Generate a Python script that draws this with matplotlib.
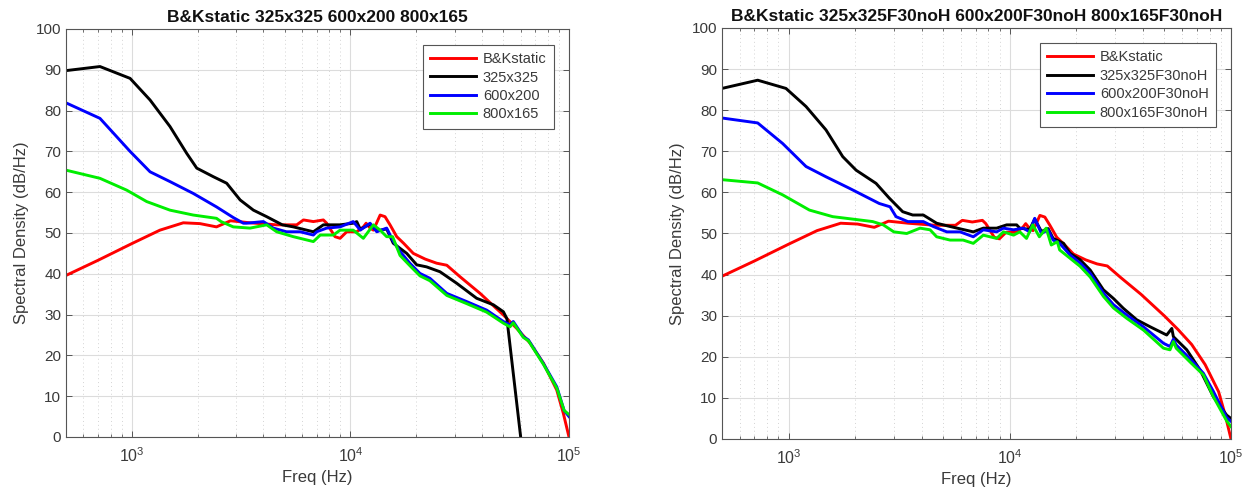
import matplotlib
matplotlib.use("Agg")
import matplotlib.pyplot as plt
from matplotlib.ticker import LogLocator, NullFormatter, MultipleLocator

plt.rcParams['font.family'] = ['Liberation Sans', 'DejaVu Sans']
plt.rcParams['mathtext.default'] = 'regular'

# ---------------- data ----------------
# B&Kstatic reference (same in both panels)
freq_bk = [500, 700, 1000, 1345, 1720, 2050, 2440, 2830, 3474, 4600, 5680, 6100, 6770, 7520, 7790,
           8500, 8970, 9620, 10690, 11460, 11800, 12300, 12740, 13680, 14400, 15180, 16290, 17500,
           19400, 22000, 24800, 27600, 31700, 39200, 50100, 57700, 66400, 76400, 87900, 94200, 100000]
db_bk = [39.6, 43.3, 47.4, 50.7, 52.5, 52.3, 51.5, 53.0, 52.5, 52.0, 52.0, 53.2, 52.8, 53.2, 52.4,
         49.1, 48.7, 50.3, 50.3, 51.5, 52.4, 51.2, 50.7, 54.4, 54.0, 52.0, 49.1, 47.5,
         45.0, 43.6, 42.6, 42.1, 39.3, 35.2, 29.9, 26.6, 23.0, 18.1, 11.5, 5.8, 0.0]

# left panel
freq_325 = [500, 715, 982, 1212, 1495, 1784, 1982, 2360, 2716, 3130, 3600, 4140, 4880, 5480, 6770,
            7520, 8970, 10300, 10690, 11100, 12300, 13200, 14650, 15700, 18100, 20100, 22300, 25700,
            30600, 37800, 45100, 50100, 52000, 60100, 61500]
db_325 = [89.8, 90.8, 87.9, 82.6, 76.1, 69.5, 65.9, 63.8, 62.2, 58.1, 55.6, 54.0, 52.0, 51.5, 50.3,
          52.0, 52.0, 52.4, 52.8, 50.9, 52.2, 50.5, 51.0, 47.5, 45.0, 42.2, 41.7, 40.5,
          37.7, 34.0, 32.4, 30.7, 29.0, 0.0, -4.0]

freq_600 = [500, 715, 982, 1212, 1495, 1910, 2440, 2910, 3240, 3350, 4000, 4440, 5100, 5890, 6770,
            7010, 7790, 8970, 10300, 11100, 12300, 13200, 14650, 15700, 16870, 18700, 20800, 23100,
            27600, 34000, 42000, 50100, 53700, 55600, 61800, 65200, 76400, 87900, 95000, 100000]
db_600 = [81.9, 78.1, 70.0, 65.0, 62.6, 59.7, 56.4, 53.8, 52.4, 52.4, 52.8, 51.2, 50.3, 50.3, 49.5,
          50.3, 51.2, 51.5, 52.8, 50.7, 52.4, 50.3, 51.2, 48.0, 45.5, 42.6, 40.1, 38.9,
          35.2, 33.2, 31.1, 28.3, 27.5, 28.3, 24.6, 23.8, 18.0, 12.3, 6.5, 5.0]

freq_800 = [500, 715, 948, 1170, 1495, 1910, 2440, 2560, 2911, 3474, 4140, 4600, 5480, 6770, 7280,
            8360, 8970, 10300, 11460, 12740, 13680, 14650, 15600, 16870, 18700, 20800, 23100, 27600,
            34000, 42000, 50100, 53700, 55600, 61800, 65200, 76400, 87900, 95000, 100000]
db_800 = [65.4, 63.4, 60.5, 57.7, 55.6, 54.4, 53.6, 52.8, 51.5, 51.2, 52.0, 50.3, 49.1, 47.9, 49.5,
          49.5, 50.7, 50.7, 48.7, 52.0, 50.7, 49.1, 49.1, 44.5, 42.0, 39.5, 38.3, 34.7,
          32.7, 30.6, 27.9, 27.0, 28.0, 24.4, 23.6, 17.8, 12.0, 6.5, 5.5]

# right panel
freq_325f = [500, 725, 973, 1199, 1476, 1757, 2020, 2485, 2853, 3280, 3640, 4065, 4670, 5370, 6840,
             7590, 8720, 9680, 10740, 11100, 12300, 12960, 13900, 14900, 15700, 17500, 18700, 20800,
             23100, 26500, 29400, 32600, 37500, 43100, 51200, 54000, 54900, 63100, 72500, 83200,
             95600, 100000]
db_325f = [85.3, 87.3, 85.3, 80.9, 75.2, 68.7, 65.4, 62.2, 58.6, 55.3, 54.5, 54.5, 52.5, 51.7, 50.4,
           51.3, 51.3, 52.1, 52.1, 51.3, 51.0, 53.5, 50.5, 51.2, 48.8, 47.6, 45.2, 43.6,
           41.1, 36.3, 34.2, 31.8, 29.0, 27.3, 25.3, 26.9, 24.9, 21.7, 16.8, 10.3,
           5.8, 5.0]

freq_600f = [500, 725, 940, 1199, 1476, 1884, 2570, 2875, 3060, 3460, 4065, 4510, 5190, 5960, 6840,
             7590, 8720, 9360, 10400, 11500, 12300, 12960, 13900, 14900, 15700, 16800, 18700, 20800,
             23100, 26500, 29400, 33700, 40200, 49500, 53000, 54900, 56500, 65100, 75000, 83200,
             95600, 100000]
db_600f = [78.1, 76.9, 71.9, 66.3, 63.8, 61.0, 57.3, 56.5, 54.1, 52.9, 52.9, 51.7, 50.4, 50.4, 49.2,
           50.9, 50.4, 51.3, 50.9, 51.3, 50.4, 53.7, 50.0, 50.9, 48.4, 47.6, 44.8, 42.8,
           40.3, 35.5, 32.7, 30.2, 27.3, 23.3, 22.5, 24.3, 22.9, 19.6, 16.0, 11.6,
           5.2, 4.3]

freq_800f = [500, 725, 940, 1242, 1582, 2090, 2400, 2680, 2990, 3420, 3930, 4360, 4670, 5370, 6150,
             6840, 7590, 8720, 9360, 10400, 11100, 11900, 12700, 13600, 14600, 15400, 16400, 16800,
             18700, 20800, 23100, 26500, 29400, 33700, 40200, 49500, 53000, 54900, 56500, 65100,
             75000, 83200, 95600, 100000]
db_800f = [63.1, 62.3, 59.4, 55.7, 54.1, 53.3, 52.9, 52.1, 50.4, 50.0, 51.3, 50.9, 49.2, 48.4, 48.4,
           47.6, 49.6, 48.8, 50.4, 49.6, 50.4, 48.8, 52.1, 49.2, 51.3, 47.2, 48.0, 46.0,
           44.0, 42.0, 39.4, 34.7, 31.9, 29.4, 26.5, 22.1, 21.7, 23.7, 22.1, 18.8,
           15.6, 10.3, 4.4, 3.0]

titles = ["B&Kstatic 325x325 600x200 800x165",
          "B&Kstatic 325x325F30noH 600x200F30noH 800x165F30noH"]
labels_left = ["B&Kstatic", "325x325", "600x200", "800x165"]
labels_right = ["B&Kstatic", "325x325F30noH", "600x200F30noH", "800x165F30noH"]
colors = ["#ff0000", "#000000", "#0000ff", "#00ee00"]

# ---------------- figure ----------------
fig = plt.figure(figsize=(12.48, 4.97), dpi=100)
ax1 = fig.add_axes([66 / 1248, 60 / 497, 503 / 1248, 408 / 497])
ax2 = fig.add_axes([722 / 1248, 58 / 497, 509 / 1248, 411 / 497])

panels = [
    (ax1, [(freq_bk, db_bk), (freq_325, db_325), (freq_600, db_600), (freq_800, db_800)], labels_left, titles[0]),
    (ax2, [(freq_bk, db_bk), (freq_325f, db_325f), (freq_600f, db_600f), (freq_800f, db_800f)], labels_right, titles[1]),
]

axis_col = "#555555"
text_col = "#3a3a3a"

for ax, series, labels, title in panels:
    for (f, d), lab, c in zip(series, labels, colors):
        ax.plot(f, d, color=c, lw=2.1, label=lab, solid_joinstyle='round')
    ax.set_xscale('log')
    ax.set_xlim(500, 1e5)
    ax.set_ylim(0, 100)
    ax.yaxis.set_major_locator(MultipleLocator(10))
    ax.xaxis.set_major_locator(LogLocator(base=10, numticks=10))
    ax.xaxis.set_minor_locator(LogLocator(base=10, subs=range(2, 10), numticks=20))
    ax.xaxis.set_minor_formatter(NullFormatter())
    ax.grid(True, which='major', color='#dcdcdc', lw=0.8, ls='-')
    ax.grid(True, which='minor', axis='x', color='#d4d4d4', lw=0.7, ls=(0, (1, 3)))
    ax.set_axisbelow(True)
    ax.tick_params(which='both', direction='in', top=True, right=True, colors=axis_col,
                   labelcolor=text_col, labelsize=11)
    ax.tick_params(axis='x', which='major', labelsize=11.5, pad=7)
    ax.tick_params(which='major', length=4, width=0.7)
    ax.tick_params(which='minor', length=2.5, width=0.6)
    for sp in ax.spines.values():
        sp.set_color(axis_col)
        sp.set_linewidth(0.8)
    ax.set_xlabel("Freq (Hz)", color=text_col, fontsize=12, labelpad=3)
    ax.set_ylabel("Spectral Density (dB/Hz)", color=text_col, fontsize=12, labelpad=5)
    ax.set_title(title, fontsize=12.5, fontweight='bold', color='#111111', pad=5)

legs = []
for ax, anchor in [(ax1, (0.970, 0.961)), (ax2, (0.9705, 0.963))]:
    leg = ax.legend(loc='upper right', bbox_to_anchor=anchor, borderaxespad=0, fontsize=10.5,
                    handlelength=3.1, labelspacing=0.3, frameon=True, fancybox=False,
                    edgecolor=axis_col, framealpha=1, borderpad=0.5, handletextpad=0.5)
    leg.get_frame().set_linewidth(0.8)
    for t in leg.get_texts():
        t.set_color(text_col)

fig.savefig("out.png", dpi=100)
